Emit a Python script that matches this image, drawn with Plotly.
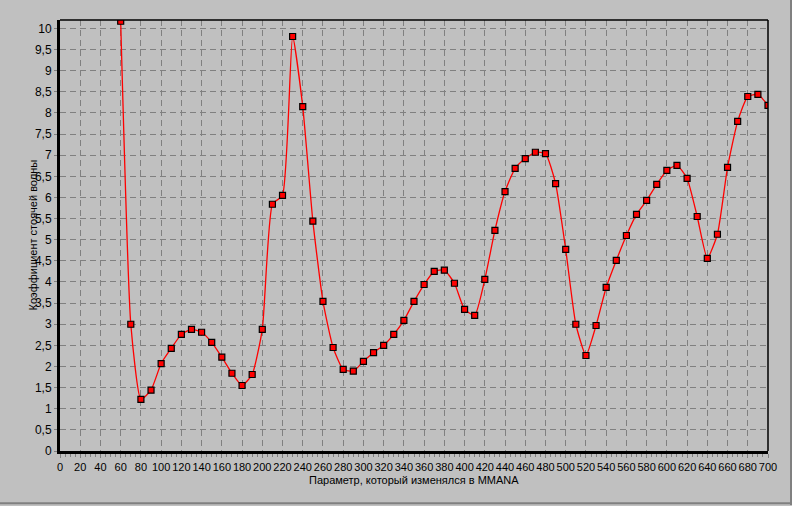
import plotly.graph_objects as go

# Data
param = list(range(60, 701, 10))
swr = [10.17, 3.00, 1.22, 1.44, 2.07, 2.43, 2.76, 2.88, 2.81, 2.57,
       2.22, 1.84, 1.55, 1.81, 2.88, 5.84, 6.05, 9.81, 8.15, 5.44,
       3.54, 2.45, 1.93, 1.89, 2.12, 2.33, 2.50, 2.76, 3.09, 3.54,
       3.94, 4.25, 4.28, 3.97, 3.35, 3.21, 4.06, 5.22, 6.14, 6.69,
       6.92, 7.07, 7.04, 6.33, 4.77, 3.00, 2.26, 2.97, 3.87, 4.51,
       5.10, 5.60, 5.93, 6.31, 6.64, 6.76, 6.45, 5.55, 4.56, 5.13,
       6.71, 7.80, 8.39, 8.44, 8.18]

x_ticks = list(range(0, 701, 20))
y_ticks = [i * 0.5 for i in range(21)]
y_tick_text = [("%g" % v).replace(".", ",") for v in y_ticks]

x_title = "Параметр, который изменялся в MMANA"
y_title = "Коэффициент стоячей волны"

BG = "#C0C0C0"
FONT = "Liberation Sans, Arial, sans-serif"

fig = go.Figure()
fig.add_trace(go.Scatter(
    x=param, y=swr, mode="lines+markers",
    line=dict(color="#FF0000", width=1.3, shape="spline", smoothing=0.5),
    marker=dict(symbol="square", size=6, color="#FF0000",
                line=dict(color="#000000", width=1.2)),
    cliponaxis=True, showlegend=False,
))

fig.update_layout(
    width=792, height=506,
    margin=dict(l=60, r=24, t=20, b=55),
    paper_bgcolor=BG, plot_bgcolor=BG,
    font=dict(family=FONT, size=12, color="#000000"),
    xaxis=dict(
        range=[0, 700], tickmode="array", tickvals=x_ticks,
        ticktext=[str(v) for v in x_ticks], tickangle=0,
        showgrid=True, gridcolor="#808080", griddash="6px,4px", gridwidth=1,
        zeroline=False, showline=True, linecolor="#000000", linewidth=3,
        ticks="outside", ticklen=4, tickcolor="#808080", tickwidth=1,
        minor=dict(dtick=5, ticks="outside", ticklen=3, tickcolor="#808080", showgrid=False),
        tickfont=dict(size=11), fixedrange=True,
    ),
    yaxis=dict(
        range=[0, 10.2], tickmode="array", tickvals=y_ticks, ticktext=y_tick_text,
        showgrid=True, gridcolor="#808080", griddash="6px,4px", gridwidth=1,
        zeroline=False, showline=True, linecolor="#000000", linewidth=3,
        ticks="outside", ticklen=3, tickcolor="#808080", tickwidth=1,
        tickfont=dict(size=12), fixedrange=True,
    ),
    shapes=[
        dict(type="line", xref="paper", yref="paper", x0=0, x1=1, y0=1, y1=1,
             line=dict(color="#000000", width=1.5)),
        dict(type="line", xref="paper", yref="paper", x0=1, x1=1, y0=0, y1=1,
             line=dict(color="#000000", width=1.5)),
        dict(type="line", xref="paper", yref="paper", x0=1.0325, x1=1.0325, y0=-0.125, y1=1.05,
             line=dict(color="#808080", width=2)),
        dict(type="line", xref="paper", yref="paper", x0=-0.09, x1=1.0325, y0=-0.121, y1=-0.121,
             line=dict(color="#808080", width=2)),
    ],
    annotations=[
        dict(text=x_title, xref="paper", yref="paper", x=0.5, y=0, yshift=-29,
             showarrow=False, xanchor="center", yanchor="middle", font=dict(size=11)),
        dict(text=y_title, xref="paper", yref="paper", x=0, y=0.5, xshift=-28,
             showarrow=False, xanchor="center", yanchor="middle", textangle=-90,
             font=dict(size=11)),
    ],
)

fig.write_html("out.html", config={"displayModeBar": False},
               post_script="document.body.style.margin='0';document.body.style.background='#C0C0C0';")
